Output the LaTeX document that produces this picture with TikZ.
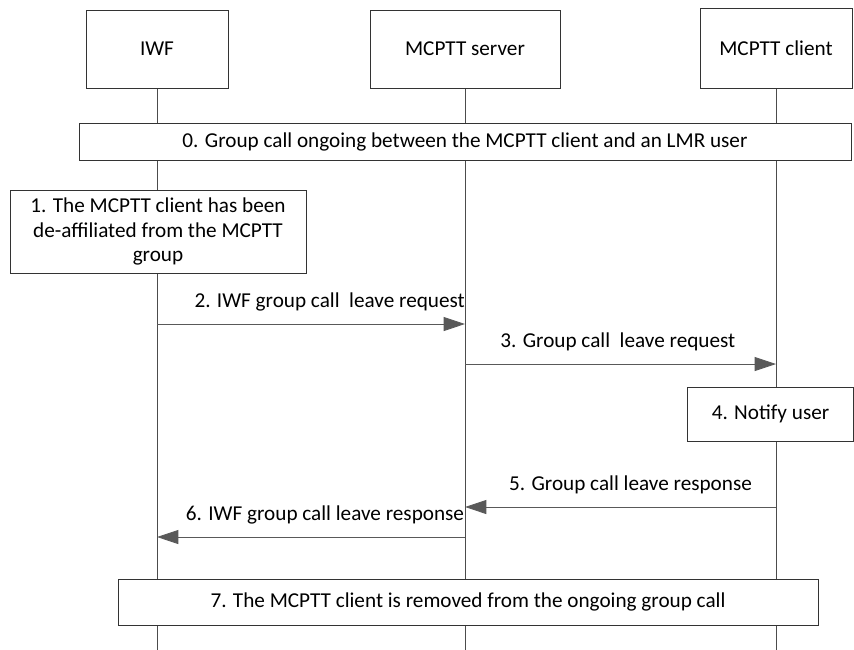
\documentclass[tikz,border=0pt]{standalone}
\usepackage{fontspec}
\setmainfont{Carlito}
\usetikzlibrary{
    arrows.meta,
    positioning,
    backgrounds
}

\begin{document}
\begin{tikzpicture}[
        x=0.75pt, y=-0.75pt,
        every node/.style={
            font=\fontsize{15.9pt}{18.4pt}\selectfont
        },
        entity/.style={
            rectangle,
            draw=black!80,
            line width=0.6pt,
            fill=white,
            minimum height=58.5pt,
            inner sep=0pt,
            align=center
        },
        action/.style={
            rectangle,
            draw=black!80,
            line width=0.6pt,
            fill=white,
            inner sep=0pt,
            align=center
        },
        lifeline/.style={
            draw=black!70,
            line width=0.6pt
        },
        msg/.style={
            -{Triangle[length=16pt,width=10.5pt]},
            line width=0.6pt,
            draw=black!65,
            fill=black!75
        },
        msglabel/.style={
            above=8.5pt,
            inner sep=1pt
        }
    ]

    \useasboundingbox (0,0) rectangle (854,650);

    % entities
    \node[entity, minimum width=106.5pt] (iwf) at (157,49) {IWF};
    \node[entity, minimum width=142.5pt] (server) at (465,49) {MCPTT server};
    \node[entity, minimum width=114pt, minimum height=60pt] (client) at (776,48) {MCPTT client};

    \coordinate (iwfend) at (157,650);
    \coordinate (serverend) at (465,650);
    \coordinate (clientend) at (776,650);

    % steps
    \node[action, minimum width=579pt, minimum height=27.75pt] (ongoing) at (465,141.5)
        {0. Group call ongoing between the MCPTT client and an LMR user};

    \node[action, minimum width=222pt, minimum height=62.25pt] (deaff) at (158,231.5)
        {1. The MCPTT client has been\\
         de-affiliated from the MCPTT\\
         group};

    \node[action, minimum width=125pt, minimum height=40.5pt] (notify) at (770.5,414)
        {4. Notify user};

    \node[action, minimum width=525pt, minimum height=34.5pt] (removed) at (468,602)
        {7. The MCPTT client is removed from the ongoing group call};

    % message levels
    \coordinate (y2) at (0,324);
    \coordinate (y3) at (0,364);
    \coordinate (y5) at (0,507);
    \coordinate (y6) at (0,537);

    \draw[msg] (iwf |- y2) -- (server |- y2)
        node[msglabel, midway, xshift=14pt] {2. IWF group call\ \ leave request};
    \draw[msg] (server |- y3) -- (client |- y3)
        node[msglabel, midway, xshift=-2pt] {3. Group call\ \ leave request};
    \draw[msg] (client |- y5) -- (server |- y5)
        node[msglabel, midway, xshift=7.5pt] {5. Group call leave response};
    \draw[msg] (server |- y6) -- (iwf |- y6)
        node[msglabel, midway, xshift=10.5pt] {6. IWF group call leave response};

    \begin{scope}[on background layer]
        \draw[lifeline] (iwf.south) -- (iwfend);
        \draw[lifeline] (server.south) -- (serverend);
        \draw[lifeline] (client.south) -- (clientend);
    \end{scope}

\end{tikzpicture}
\end{document}
